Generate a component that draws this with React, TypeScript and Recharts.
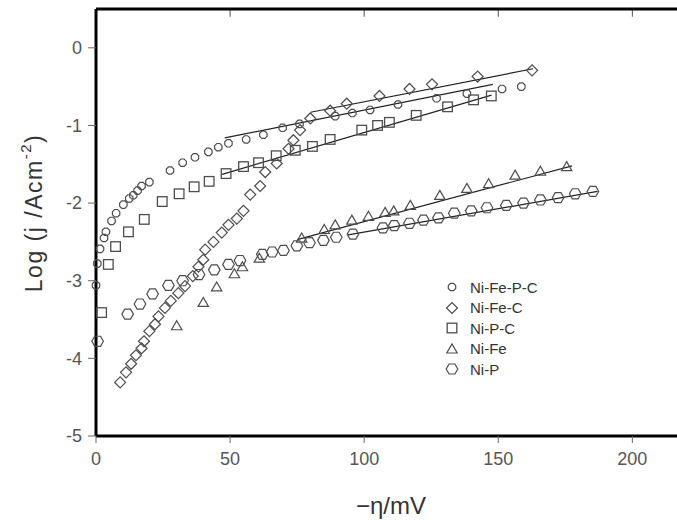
import { ScatterChart, Scatter, XAxis, YAxis, ReferenceLine, Label } from 'recharts';

// measured points, x = -η (mV), y = log j
const niFePC = [
  { x: 0, y: -3.06 }, { x: 0.5, y: -2.78 }, { x: 1.5, y: -2.59 }, { x: 3, y: -2.45 },
  { x: 3.7, y: -2.37 }, { x: 5.8, y: -2.23 }, { x: 7.5, y: -2.13 }, { x: 10.2, y: -2.02 },
  { x: 12.4, y: -1.94 }, { x: 13.9, y: -1.9 }, { x: 15.5, y: -1.84 }, { x: 17, y: -1.78 },
  { x: 19.9, y: -1.73 }, { x: 27.6, y: -1.58 }, { x: 32.3, y: -1.48 }, { x: 36.9, y: -1.41 },
  { x: 41.9, y: -1.34 }, { x: 45.6, y: -1.28 }, { x: 49.4, y: -1.23 }, { x: 56, y: -1.18 },
  { x: 62.4, y: -1.12 }, { x: 69.6, y: -1.03 }, { x: 75.9, y: -0.98 }, { x: 89.2, y: -0.88 },
  { x: 95.6, y: -0.84 }, { x: 102.2, y: -0.8 }, { x: 112.6, y: -0.73 }, { x: 127, y: -0.65 },
  { x: 138.3, y: -0.59 }, { x: 151.4, y: -0.53 }, { x: 158.6, y: -0.5 },
];

const niFeC = [
  { x: 9, y: -4.31 }, { x: 11.2, y: -4.18 }, { x: 13.1, y: -4.07 }, { x: 14.9, y: -3.96 },
  { x: 17, y: -3.87 }, { x: 17.9, y: -3.78 }, { x: 19.9, y: -3.65 }, { x: 22, y: -3.56 },
  { x: 23.3, y: -3.46 }, { x: 25.7, y: -3.35 }, { x: 27.9, y: -3.26 }, { x: 30.7, y: -3.16 },
  { x: 33.2, y: -3.07 }, { x: 36.1, y: -2.94 }, { x: 38.2, y: -2.82 }, { x: 40, y: -2.73 },
  { x: 40.7, y: -2.6 }, { x: 43.8, y: -2.5 }, { x: 46.9, y: -2.38 }, { x: 49.4, y: -2.28 },
  { x: 52.5, y: -2.2 }, { x: 55, y: -2.1 }, { x: 57.5, y: -1.89 }, { x: 61.2, y: -1.78 },
  { x: 63.1, y: -1.6 }, { x: 67.4, y: -1.49 }, { x: 71.8, y: -1.3 }, { x: 73.6, y: -1.19 },
  { x: 76.1, y: -1.06 }, { x: 79.9, y: -0.91 }, { x: 87.3, y: -0.81 }, { x: 93.5, y: -0.72 },
  { x: 105.7, y: -0.62 }, { x: 116.9, y: -0.53 }, { x: 125.3, y: -0.47 }, { x: 142.3, y: -0.37 },
  { x: 162.6, y: -0.29 },
];

const niPC = [
  { x: 2.1, y: -3.41 }, { x: 4.6, y: -2.79 }, { x: 7.3, y: -2.56 }, { x: 12.1, y: -2.37 },
  { x: 18, y: -2.21 }, { x: 24.7, y: -1.98 }, { x: 31, y: -1.88 }, { x: 36.6, y: -1.79 },
  { x: 42.2, y: -1.72 }, { x: 48.5, y: -1.62 }, { x: 55, y: -1.53 }, { x: 60.6, y: -1.48 },
  { x: 67.2, y: -1.39 }, { x: 74.3, y: -1.32 }, { x: 80.7, y: -1.27 }, { x: 87.3, y: -1.18 },
  { x: 99.1, y: -1.06 }, { x: 105, y: -1.0 }, { x: 109.4, y: -0.96 }, { x: 119.4, y: -0.87 },
  { x: 131.1, y: -0.76 }, { x: 140.8, y: -0.67 }, { x: 147.4, y: -0.62 },
];

const niFe = [
  { x: 30.1, y: -3.58 }, { x: 40, y: -3.28 }, { x: 45, y: -3.08 }, { x: 51.6, y: -2.91 },
  { x: 54.6, y: -2.82 }, { x: 60.9, y: -2.71 }, { x: 76.7, y: -2.45 }, { x: 85.1, y: -2.34 },
  { x: 89.2, y: -2.28 }, { x: 95.4, y: -2.22 }, { x: 101.6, y: -2.17 }, { x: 107.8, y: -2.12 },
  { x: 111, y: -2.1 }, { x: 117.2, y: -2.03 }, { x: 128.2, y: -1.9 }, { x: 138.3, y: -1.81 },
  { x: 146.4, y: -1.75 }, { x: 156.3, y: -1.64 }, { x: 165.7, y: -1.59 }, { x: 175.5, y: -1.53 },
];

const niP = [
  { x: 0.6, y: -3.78 }, { x: 11.8, y: -3.43 }, { x: 16.4, y: -3.3 }, { x: 21.1, y: -3.17 },
  { x: 27, y: -3.06 }, { x: 32.3, y: -3.0 }, { x: 38.4, y: -2.92 }, { x: 44.1, y: -2.86 },
  { x: 49.4, y: -2.79 }, { x: 53.7, y: -2.74 }, { x: 62, y: -2.66 }, { x: 65.7, y: -2.63 },
  { x: 69.9, y: -2.61 }, { x: 74.9, y: -2.55 }, { x: 79.6, y: -2.51 }, { x: 84.8, y: -2.48 },
  { x: 89.6, y: -2.44 }, { x: 95.8, y: -2.4 }, { x: 107, y: -2.32 }, { x: 111.2, y: -2.29 },
  { x: 116.9, y: -2.26 }, { x: 122.1, y: -2.22 }, { x: 127.7, y: -2.19 }, { x: 133.6, y: -2.13 },
  { x: 139.9, y: -2.1 }, { x: 145.8, y: -2.06 }, { x: 153, y: -2.03 }, { x: 159.4, y: -2.0 },
  { x: 165.7, y: -1.96 }, { x: 172.3, y: -1.93 }, { x: 178.7, y: -1.88 }, { x: 185.3, y: -1.85 },
];

// Tafel fit lines (start, end)
const fitNiFePC = [{ x: 48, y: -1.16 }, { x: 148, y: -0.47 }];
const fitNiFeC = [{ x: 80, y: -0.83 }, { x: 163, y: -0.27 }];
const fitNiPC = [{ x: 47, y: -1.63 }, { x: 147.5, y: -0.61 }];
const fitNiFe = [{ x: 75, y: -2.47 }, { x: 177.5, y: -1.52 }];
const fitNiP = [{ x: 94, y: -2.41 }, { x: 187, y: -1.85 }];

const xTicks = [0, 50, 100, 150, 200];
const topTicks = [50, 100, 150, 200];
const yTicks = [-5, -4, -3, -2, -1, 0];
const Y_MAX = 0.5;

const MARK = '#4d4d4d';
const FONT = 'Arial, "Liberation Sans", sans-serif';

type P = { cx?: number; cy?: number };

function poly(cx: number, cy: number, r: number, n: number, rot: number) {
  const pts: string[] = [];
  for (let i = 0; i < n; i++) {
    const a = rot + (i * 2 * Math.PI) / n;
    pts.push(`${cx + r * Math.cos(a)},${cy + r * Math.sin(a)}`);
  }
  return pts.join(' ');
}

const SmallCircle = ({ cx = 0, cy = 0 }: P) => (
  <polygon points={poly(cx, cy, 4, 8, Math.PI / 8)} fill="none" stroke={MARK} strokeWidth={1.2} />
);
const BigHex = ({ cx = 0, cy = 0 }: P) => (
  <polygon points={poly(cx, cy, 5.8, 6, 0)} fill="none" stroke={MARK} strokeWidth={1.2} />
);
const Diamond = ({ cx = 0, cy = 0 }: P) => (
  <polygon points={poly(cx, cy, 5.5, 4, 0)} fill="none" stroke={MARK} strokeWidth={1.2} />
);
const Square = ({ cx = 0, cy = 0 }: P) => (
  <rect x={cx - 4.8} y={cy - 4.8} width={9.6} height={9.6} fill="none" stroke={MARK} strokeWidth={1.3} />
);
const Triangle = ({ cx = 0, cy = 0 }: P) => (
  <polygon points={poly(cx, cy + 1, 6, 3, -Math.PI / 2)} fill="none" stroke={MARK} strokeWidth={1.2} />
);

const legendItems = [
  { name: 'Ni-Fe-P-C', Shape: SmallCircle },
  { name: 'Ni-Fe-C', Shape: Diamond },
  { name: 'Ni-P-C', Shape: Square },
  { name: 'Ni-Fe', Shape: Triangle },
  { name: 'Ni-P', Shape: BigHex },
];

function ChartLegend() {
  return (
    <div style={{ position: 'absolute', left: 444, top: 277, fontFamily: FONT, fontSize: 15, color: '#333' }}>
      {legendItems.map(({ name, Shape }) => (
        <div key={name} style={{ display: 'flex', alignItems: 'center', height: 20.5 }}>
          <svg width={16} height={16} style={{ marginRight: 10 }}>
            <Shape cx={8} cy={8} />
          </svg>
          {name}
        </div>
      ))}
    </div>
  );
}

const fits = [fitNiFePC, fitNiFeC, fitNiPC, fitNiFe, fitNiP];

export default function App() {
  const tickStyle = { fontSize: 18, fill: '#555', fontFamily: FONT };
  return (
    <div style={{ position: 'absolute', left: 0, top: 0, width: 677, height: 520, overflow: 'hidden', background: '#fff' }}>
      <ScatterChart width={700} height={520} margin={{ top: 8, right: 14, bottom: 34, left: 36 }}>
        <XAxis
          type="number"
          dataKey="x"
          domain={[0, 220]}
          ticks={xTicks}
          tick={tickStyle}
          tickSize={7}
          tickMargin={9}
          height={50}
          axisLine={{ stroke: '#000', strokeWidth: 3 }}
          tickLine={{ stroke: '#666' }}
        >
          <Label
            value="−η/mV"
            position="bottom"
            offset={11}
            style={{ fontSize: 24, fill: '#333', fontFamily: FONT }}
          />
        </XAxis>
        <XAxis
          xAxisId="top"
          orientation="top"
          type="number"
          domain={[0, 220]}
          tick={false}
          tickLine={false}
          height={1}
          axisLine={{ stroke: '#000', strokeWidth: 3 }}
        />
        <YAxis
          type="number"
          dataKey="y"
          domain={[-5, Y_MAX]}
          ticks={yTicks}
          tick={tickStyle}
          tickSize={8}
          tickMargin={6}
          width={60}
          axisLine={{ stroke: '#000', strokeWidth: 3 }}
          tickLine={{ stroke: '#666' }}
        >
          <Label
            content={() => (
              <text
                x={34}
                y={213}
                transform="rotate(-90, 34, 213)"
                textAnchor="middle"
                dominantBaseline="central"
                style={{ fontSize: 23, fill: '#333', fontFamily: FONT, letterSpacing: 1.5 }}
              >
                Log (j /Acm
                <tspan dy={-9} fontSize={15}>-2</tspan>
                <tspan dy={9}>)</tspan>
              </text>
            )}
          />
        </YAxis>
        {topTicks.map((t) => (
          <ReferenceLine
            key={`t${t}`}
            segment={[{ x: t, y: Y_MAX }, { x: t, y: Y_MAX - 0.1 }]}
            stroke="#555"
            strokeWidth={1}
          />
        ))}
        {fits.map((seg, i) => (
          <ReferenceLine
            key={i}
            segment={[seg[0], seg[1]]}
            stroke="#222"
            strokeWidth={1.2}
          />
        ))}
        <Scatter name="Ni-Fe-P-C" data={niFePC} shape={SmallCircle} isAnimationActive={false} />
        <Scatter name="Ni-Fe-C" data={niFeC} shape={Diamond} isAnimationActive={false} />
        <Scatter name="Ni-P-C" data={niPC} shape={Square} isAnimationActive={false} />
        <Scatter name="Ni-Fe" data={niFe} shape={Triangle} isAnimationActive={false} />
        <Scatter name="Ni-P" data={niP} shape={BigHex} isAnimationActive={false} />
      </ScatterChart>
      <ChartLegend />
    </div>
  );
}
